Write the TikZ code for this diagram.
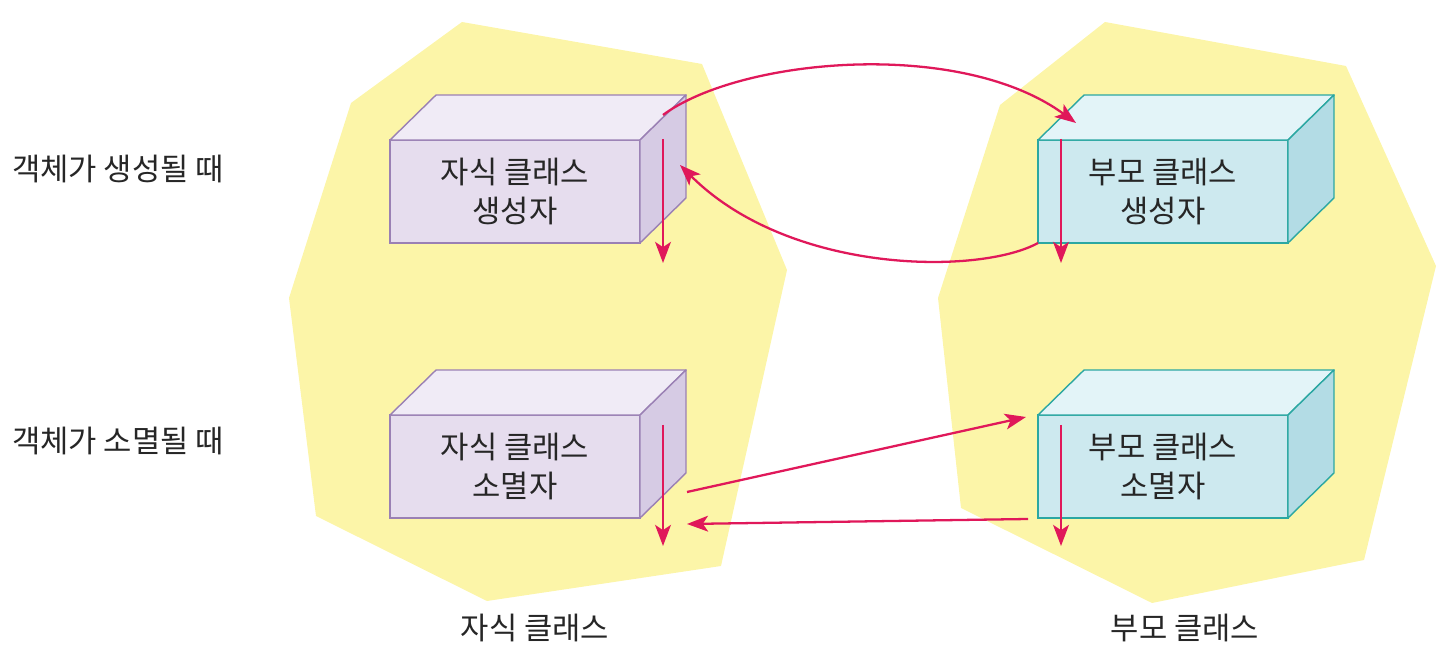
\documentclass[tikz,border=0pt]{standalone}
\usepackage{fontspec}
\setmainfont{Noto Sans CJK KR}
\usetikzlibrary{arrows.meta}

\definecolor{blob}{HTML}{FCF5A8}
\definecolor{textgray}{HTML}{262626}
\definecolor{flowred}{HTML}{E0185A}
\definecolor{childedge}{HTML}{9A80B4}
\definecolor{childfront}{HTML}{E6DDEE}
\definecolor{childtop}{HTML}{F0EBF6}
\definecolor{childside}{HTML}{D6CBE4}
\definecolor{parentedge}{HTML}{2BA7A2}
\definecolor{parentfront}{HTML}{CDE9EF}
\definecolor{parenttop}{HTML}{E3F4F8}
\definecolor{parentside}{HTML}{B3DCE5}

\begin{document}
\begin{tikzpicture}
  [x=0.02cm,y=-0.02cm,
   label/.style={text=textgray,font=\fontsize{17.5}{21}\selectfont},
   childbox/.style={draw=childedge,fill=childfront,line width=0.8pt,
     minimum width=5cm,minimum height=2.06cm,inner sep=0pt,outer sep=0pt,
     align=center,text=textgray,font=\fontsize{17.5}{22.7}\selectfont},
   parentbox/.style={childbox,draw=parentedge,fill=parentfront},
   flow/.style={draw=flowred,line width=1.3pt,
     -{Stealth[length=12pt,width=9pt,inset=3pt]}}]
  \useasboundingbox (0,0) rectangle (1440,651);

  % yellow areas
  \fill[blob] (462,22) -- (702,64) -- (787,270) -- (721,566) -- (487,601)
    -- (316,516) -- (289,298) -- (351,103) -- cycle;
  \fill[blob] (1105,22) -- (1346,66) -- (1436,266) -- (1364,560) -- (1152,603)
    -- (961,508) -- (938,298) -- (1000,105) -- cycle;

  % boxes
  \node[childbox] (cs) at (515,191.5) {자식 클래스\\생성자};
  \node[childbox] (cd) at (515,466.5) {자식 클래스\\소멸자};
  \node[parentbox] (ps) at (1163,191.5) {부모 클래스\\생성자};
  \node[parentbox] (pd) at (1163,466.5) {부모 클래스\\소멸자};

  \foreach \n in {cs,cd} {
    \draw[childedge,fill=childtop,line width=0.8pt,line join=round]
      (\n.north west) -- ++(46,-45) -- ++(250,0) -- (\n.north east) -- cycle;
    \draw[childedge,fill=childside,line width=0.8pt,line join=round]
      (\n.north east) -- ++(46,-45) -- ++(0,103) -- (\n.south east) -- cycle;
  }
  \foreach \n in {ps,pd} {
    \draw[parentedge,fill=parenttop,line width=0.8pt,line join=round]
      (\n.north west) -- ++(46,-45) -- ++(250,0) -- (\n.north east) -- cycle;
    \draw[parentedge,fill=parentside,line width=0.8pt,line join=round]
      (\n.north east) -- ++(46,-45) -- ++(0,103) -- (\n.south east) -- cycle;
  }

  % labels
  \node[label] (create) at (118,169) {객체가 생성될 때};
  \node[label] (destroy) at (118,441) {객체가 소멸될 때};
  \node[label] (childlbl) at (535,628) {자식 클래스};
  \node[label] (parentlbl) at (1185,628) {부모 클래스};

  % arrow ends
  \coordinate (cs-top) at (663,139);  \coordinate (cs-end) at (663,263);
  \coordinate (cd-top) at (663,425);  \coordinate (cd-end) at (663,546);
  \coordinate (ps-top) at (1061,139); \coordinate (ps-end) at (1061,263);
  \coordinate (pd-top) at (1061,425); \coordinate (pd-end) at (1061,546);
  \coordinate (cs-out) at (663,115);  \coordinate (ps-in) at (1076,123);
  \coordinate (cs-in) at (680,165);
  \coordinate (cd-out) at (687,492);  \coordinate (pd-in) at (1026,417);
  \coordinate (pd-out) at (1028,519); \coordinate (cd-in) at (687,524);

  \foreach \from/\to in {cs-top/cs-end, cd-top/cd-end, ps-top/ps-end,
      pd-top/pd-end, cd-out/pd-in, pd-out/cd-in}
    \draw[flow] (\from) -- (\to);

  \draw[flow] (cs-out) .. controls (740,58) and (960,38) .. (ps-in);
  \draw[flow] (ps.south west) .. controls (980,275) and (790,275) .. (cs-in);

\end{tikzpicture}
\end{document}
